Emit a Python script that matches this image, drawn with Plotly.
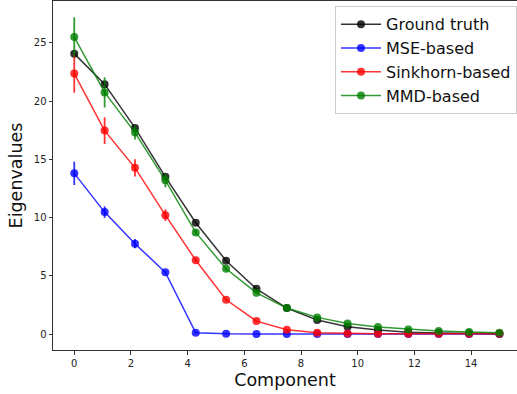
import numpy as np
import plotly.graph_objects as go

x = np.linspace(0, 15, 15)

ground_truth = [24.08, 21.46, 17.7, 13.5, 9.56, 6.3, 3.88, 2.23, 1.2, 0.63, 0.34, 0.15, 0.08, 0.05, 0.03]
mse = [13.8, 10.47, 7.76, 5.3, 0.11, 0.02, 0.0, 0.0, 0.0, 0.0, 0.0, 0.0, 0.0, 0.0, 0.0]
mse_err = [1.0, 0.5, 0.4, 0.15, 0.05, 0.02, 0, 0, 0, 0, 0, 0, 0, 0, 0]
sinkhorn = [22.37, 17.47, 14.27, 10.21, 6.34, 2.94, 1.11, 0.37, 0.11, 0.05, 0.03, 0.02, 0.02, 0.02, 0.02]
sinkhorn_err = [1.65, 1.15, 0.75, 0.5, 0.15, 0.1, 0.05, 0.03, 0.02, 0.01, 0.01, 0.01, 0.01, 0.01, 0.01]
mmd = [25.5, 20.75, 17.3, 13.2, 8.73, 5.6, 3.54, 2.23, 1.43, 0.91, 0.6, 0.4, 0.26, 0.17, 0.11]
mmd_err = [1.7, 1.3, 0.6, 0.6, 0.2, 0.15, 0.1, 0.05, 0.05, 0.03, 0.03, 0.02, 0.02, 0.02, 0.02]

series = [
    ("Ground truth", ground_truth, None, "rgba(0,0,0,0.8)"),
    ("MSE-based", mse, mse_err, "rgba(0,0,255,0.8)"),
    ("Sinkhorn-based", sinkhorn, sinkhorn_err, "rgba(255,0,0,0.8)"),
    ("MMD-based", mmd, mmd_err, "rgba(0,128,0,0.8)"),
]

fig = go.Figure()
for name, ys, err, col in series:
    kw = {}
    if err is not None:
        kw["error_y"] = dict(type="data", array=err, visible=True, color=col, thickness=1.8, width=0)
    fig.add_trace(go.Scatter(
        x=x, y=ys, name=name, mode="lines+markers",
        line=dict(color=col, width=1.5),
        marker=dict(color=col, size=8),
        **kw))

axis_common = dict(showline=True, linecolor="#333", linewidth=1, mirror=True,
                   ticks="outside", ticklen=3.5, tickcolor="#333", showgrid=False,
                   zeroline=False, tickfont=dict(size=10, color="#222"))

fig.update_layout(
    width=517, height=394,
    margin=dict(l=53, r=0, t=1, b=44),
    plot_bgcolor="white", paper_bgcolor="white",
    font=dict(family="DejaVu Sans", color="#111"),
    xaxis=dict(range=[-0.75, 15.62], tickvals=[0, 2, 4, 6, 8, 10, 12, 14],
               title=dict(text="Component", font=dict(size=17.5), standoff=6), **axis_common),
    yaxis=dict(range=[-1.37, 28.6], tickvals=[0, 5, 10, 15, 20, 25],
               title=dict(text="Eigenvalues", font=dict(size=17.5), standoff=6), **axis_common),
    legend=dict(x=0.608, y=0.985, xanchor="left", yanchor="top",
                bordercolor="#ccc", borderwidth=1, bgcolor="rgba(255,255,255,0.8)",
                itemwidth=40, font=dict(size=16, color="#111")),
)

fig.write_html("out.html")
